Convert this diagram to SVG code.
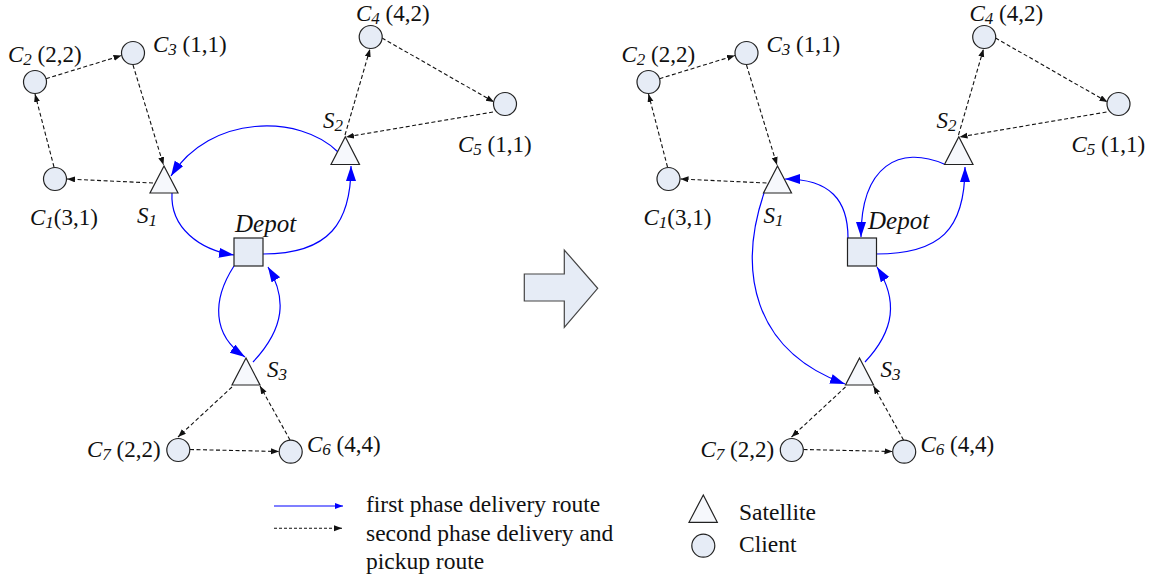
<svg xmlns="http://www.w3.org/2000/svg" width="1151" height="583" viewBox="0 0 1151 583">
<defs>
<style>
.cl{fill:#e6ecf6;stroke:#222;stroke-width:1.2}
.sat{fill:#f6f8fc;stroke:#222;stroke-width:1.2}
.dep{fill:#e6ecf6;stroke:#222;stroke-width:1.2}
.dash{fill:none;stroke:#111;stroke-width:1.1;stroke-dasharray:4 2.5;marker-end:url(#ak)}
.blue{fill:none;stroke:#0000ff;stroke-width:1.2;marker-end:url(#ab)}
text{font-family:"Liberation Serif","Times New Roman",serif;fill:#111}
.lb{font-size:23px}
.it{font-style:italic}
.sub{font-size:17px;font-style:italic}
.dp{font-size:25px;font-style:italic}
.lg{font-size:23.5px}
</style>
<marker id="ak" markerUnits="userSpaceOnUse" markerWidth="9" markerHeight="7" refX="8" refY="3" orient="auto"><path d="M0,0 L8,3 L0,6 z" fill="#111"/></marker>
<marker id="ab" markerUnits="userSpaceOnUse" markerWidth="16" markerHeight="11" refX="15" refY="5" orient="auto"><path d="M0,0 L15,5 L0,10 z" fill="#0000ff"/></marker>
<marker id="abs" markerUnits="userSpaceOnUse" markerWidth="9" markerHeight="7" refX="8" refY="3" orient="auto"><path d="M0,0 L8,3 L0,6 z" fill="#0000ff"/></marker>
</defs>

<g id="connectors">
  <g id="left-dashed">
    <path class="dash" d="M153,183 L67,179"/>
    <path class="dash" d="M54,167 L35,94"/>
    <path class="dash" d="M46,78.7 L121.5,55.5"/>
    <path class="dash" d="M133,65 L163.5,165"/>
    <path class="dash" d="M345,135 L370,49"/>
    <path class="dash" d="M382,38 L494,102"/>
    <path class="dash" d="M493,112 L346,137"/>
    <path class="dash" d="M232,387 L178,437"/>
    <path class="dash" d="M190,449.5 L279,451.5"/>
    <path class="dash" d="M290,440 L260,386"/>
  </g>
  <g id="right-dashed" transform="translate(613.5,0)">
    <path class="dash" d="M153,183 L67,179"/>
    <path class="dash" d="M54,167 L35,94"/>
    <path class="dash" d="M46,78.7 L121.5,55.5"/>
    <path class="dash" d="M133,65 L163.5,165"/>
    <path class="dash" d="M345,135 L370,49"/>
    <path class="dash" d="M382,38 L494,102"/>
    <path class="dash" d="M493,112 L346,137"/>
    <path class="dash" d="M232,387 L178,437"/>
    <path class="dash" d="M190,449.5 L279,451.5"/>
    <path class="dash" d="M290,440 L260,386"/>
  </g>
  <g id="left-blue">
    <path class="blue" d="M338,152 C300,114 210,114 171,176"/>
    <path class="blue" d="M172,193 C170,228 200,250 234,255"/>
    <path class="blue" d="M263,254 C330,254 351,222 351,166"/>
    <path class="blue" d="M234,266 C212,300 212,335 245,357"/>
    <path class="blue" d="M253,362 C285,328 287,298 268,267"/>
  </g>
  <g id="right-blue">
    <path class="blue" d="M848,238 C848,200 830,179 785,179"/>
    <path class="blue" d="M764,193 C738,270 752,350 845,384"/>
    <path class="blue" d="M865,362 C895,330 898,300 877,267"/>
    <path class="blue" d="M876,254 C940,254 965,230 965,167"/>
    <path class="blue" d="M944,164 C900,145 861,165 861,237"/>
  </g>
</g>

<g id="left-nodes">
  <g id="C1"><circle class="cl" cx="55" cy="179" r="11.5"/><text class="lb" x="30" y="225"><tspan class="it">C</tspan><tspan class="sub" dy="3">1</tspan><tspan dy="-3">(3,1)</tspan></text></g>
  <g id="C2"><circle class="cl" cx="35" cy="82" r="11.5"/><text class="lb" x="8" y="62"><tspan class="it">C</tspan><tspan class="sub" dy="3">2</tspan><tspan dy="-3"> (2,2)</tspan></text></g>
  <g id="C3"><circle class="cl" cx="133" cy="53" r="11.5"/><text class="lb" x="153" y="52"><tspan class="it">C</tspan><tspan class="sub" dy="3">3</tspan><tspan dy="-3"> (1,1)</tspan></text></g>
  <g id="C4"><circle class="cl" cx="370.7" cy="37" r="11.5"/><text class="lb" x="356" y="21"><tspan class="it">C</tspan><tspan class="sub" dy="3">4</tspan><tspan dy="-3"> (4,2)</tspan></text></g>
  <g id="C5"><circle class="cl" cx="505" cy="104" r="11.5"/><text class="lb" x="458" y="152"><tspan class="it">C</tspan><tspan class="sub" dy="3">5</tspan><tspan dy="-3"> (1,1)</tspan></text></g>
  <g id="C6"><circle class="cl" cx="290.7" cy="451.7" r="11.5"/><text class="lb" x="307" y="452"><tspan class="it">C</tspan><tspan class="sub" dy="3">6</tspan><tspan dy="-3"> (4,4)</tspan></text></g>
  <g id="C7"><circle class="cl" cx="178.3" cy="450" r="11.5"/><text class="lb" x="87" y="457"><tspan class="it">C</tspan><tspan class="sub" dy="3">7</tspan><tspan dy="-3"> (2,2)</tspan></text></g>
  <g id="S1"><polygon class="sat" points="164,166 150,193 178,193"/><text class="lb" x="137" y="223"><tspan class="it">S</tspan><tspan class="sub" dy="3">1</tspan></text></g>
  <g id="S2"><polygon class="sat" points="345.3,136.7 331,164.5 359.5,164.5"/><text class="lb" x="323" y="128"><tspan class="it">S</tspan><tspan class="sub" dy="3">2</tspan></text></g>
  <g id="S3"><polygon class="sat" points="246,358 232,385 260,385"/><text class="lb" x="267" y="377"><tspan class="it">S</tspan><tspan class="sub" dy="3">3</tspan></text></g>
  <g id="Depot"><rect class="dep" x="234" y="238" width="29" height="28"/><text class="dp" x="235" y="232">Depot</text></g>
</g>

<g id="right-nodes" transform="translate(613.5,0)">
  <g id="rC1"><circle class="cl" cx="55" cy="179" r="11.5"/><text class="lb" x="30" y="225"><tspan class="it">C</tspan><tspan class="sub" dy="3">1</tspan><tspan dy="-3">(3,1)</tspan></text></g>
  <g id="rC2"><circle class="cl" cx="35" cy="82" r="11.5"/><text class="lb" x="8" y="62"><tspan class="it">C</tspan><tspan class="sub" dy="3">2</tspan><tspan dy="-3"> (2,2)</tspan></text></g>
  <g id="rC3"><circle class="cl" cx="133" cy="53" r="11.5"/><text class="lb" x="153" y="52"><tspan class="it">C</tspan><tspan class="sub" dy="3">3</tspan><tspan dy="-3"> (1,1)</tspan></text></g>
  <g id="rC4"><circle class="cl" cx="370.7" cy="37" r="11.5"/><text class="lb" x="356" y="21"><tspan class="it">C</tspan><tspan class="sub" dy="3">4</tspan><tspan dy="-3"> (4,2)</tspan></text></g>
  <g id="rC5"><circle class="cl" cx="505" cy="104" r="11.5"/><text class="lb" x="458" y="152"><tspan class="it">C</tspan><tspan class="sub" dy="3">5</tspan><tspan dy="-3"> (1,1)</tspan></text></g>
  <g id="rC6"><circle class="cl" cx="290.7" cy="451.7" r="11.5"/><text class="lb" x="307" y="452"><tspan class="it">C</tspan><tspan class="sub" dy="3">6</tspan><tspan dy="-3"> (4,4)</tspan></text></g>
  <g id="rC7"><circle class="cl" cx="178.3" cy="450" r="11.5"/><text class="lb" x="87" y="457"><tspan class="it">C</tspan><tspan class="sub" dy="3">7</tspan><tspan dy="-3"> (2,2)</tspan></text></g>
  <g id="rS1"><polygon class="sat" points="164,166 150,193 178,193"/><text class="lb" x="150" y="223"><tspan class="it">S</tspan><tspan class="sub" dy="3">1</tspan></text></g>
  <g id="rS2"><polygon class="sat" points="345.3,136.7 331,164.5 359.5,164.5"/><text class="lb" x="323" y="128"><tspan class="it">S</tspan><tspan class="sub" dy="3">2</tspan></text></g>
  <g id="rS3"><polygon class="sat" points="246,358 232,385 260,385"/><text class="lb" x="267" y="377"><tspan class="it">S</tspan><tspan class="sub" dy="3">3</tspan></text></g>
  <g id="rDepot"><rect class="dep" x="234" y="238" width="29" height="28"/><text class="dp" x="254.5" y="229">Depot</text></g>
</g>

<g id="big-arrow"><polygon points="524.3,274 564.3,274 564.3,250 597.7,288.3 564.3,327.3 564.3,301 524.3,301" fill="#e6ecf6" stroke="#444" stroke-width="1.2"/></g>

<g id="legend">
  <line x1="274" y1="506" x2="343" y2="506" stroke="#0000ff" stroke-width="1.2" marker-end="url(#abs)"/>
  <line x1="274" y1="528.3" x2="342" y2="528.3" stroke="#111" stroke-width="1.1" stroke-dasharray="3 2" marker-end="url(#ak)"/>
  <text class="lg" x="366" y="512">first phase delivery route</text>
  <text class="lg" x="366" y="541">second phase delivery and</text>
  <text class="lg" x="366" y="569">pickup route</text>
  <polygon class="sat" points="703.3,495 689,522.3 717.3,522.3"/>
  <text class="lg" x="739" y="520">Satellite</text>
  <circle class="cl" cx="703.3" cy="545.7" r="11.5"/>
  <text class="lg" x="739" y="552">Client</text>
</g>
</svg>
